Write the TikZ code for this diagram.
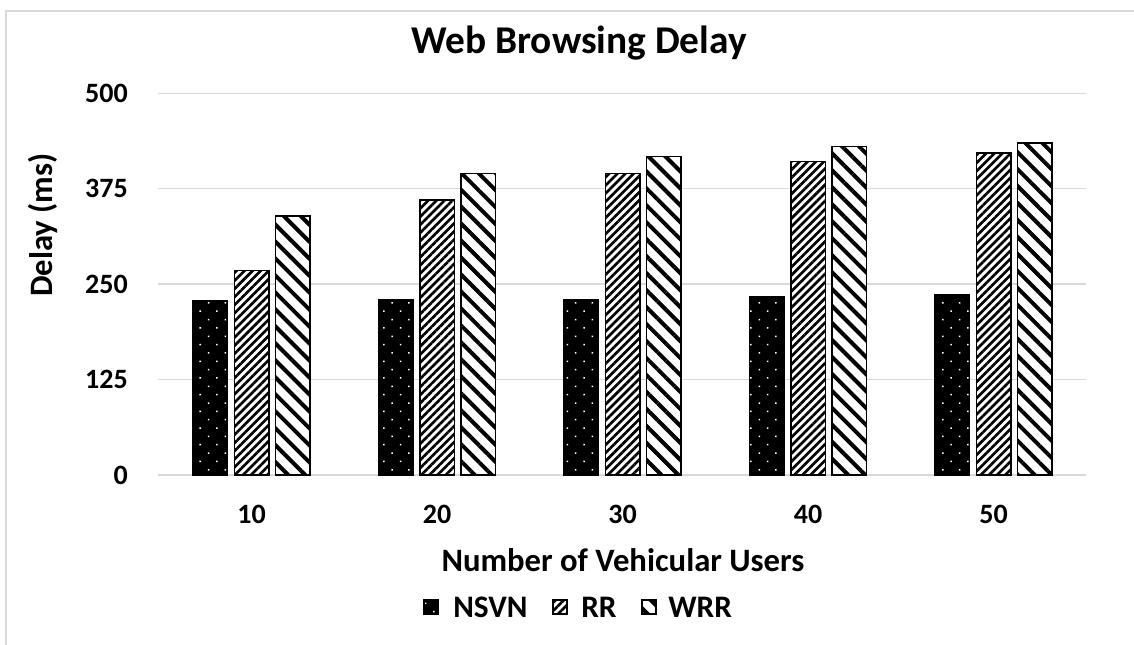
\documentclass[tikz,border=0pt]{standalone}
\usepackage{fontspec}
\setmainfont{Carlito}
\usetikzlibrary{patterns.meta}
\definecolor{gridgray}{HTML}{D9D9D9}

\tikzset{
  gridline/.style={gridgray, line width=1.1pt},
  barline/.style={black, line width=1.1pt},
  nsvnfill/.style={pattern={Dots[distance=8.85pt, radius=0.8pt, angle=45]}, pattern color=white},
  rrfill/.style={preaction={fill=white}, pattern={Lines[angle=45, distance=4.3pt, line width=2pt]}, pattern color=black},
  wrrfill/.style={preaction={fill=white}, pattern={Lines[angle=-45, distance=9pt, line width=3pt]}, pattern color=black},
  ticklabel/.style={font=\fontsize{21}{25}\selectfont\bfseries, inner sep=0pt},
  axistitle/.style={font=\fontsize{24.5}{29}\selectfont\bfseries, inner sep=0pt},
  charttitle/.style={font=\fontsize{29.5}{35}\selectfont\bfseries, inner sep=0pt},
  legendtext/.style={font=\fontsize{23.5}{28}\selectfont\bfseries, inner sep=0pt, anchor=west},
}

\begin{document}
\begin{tikzpicture}[x=0.75pt, y=-0.75pt]
\useasboundingbox (0,0) rectangle (1134,645);

% chart area border (top and left edges visible)
\draw[gridline] (1134,11) -- (6,11) -- (6,645);

% horizontal gridlines and value labels
\foreach \v/\lab in {0/g0, 125/g1, 250/g2, 375/g3, 500/g4} {
  \pgfmathsetmacro\gy{475-0.7634*\v}
  \draw[gridline] (158.3,\gy) -- (1086,\gy);
  \node[ticklabel, anchor=east] (\lab) at (128,\gy) {\v};
}

% bars: NSVN, RR, WRR for each number of users
\foreach \i/\n/\a/\b/\c in {1/10/228/268/339, 2/20/230/360/395, 3/30/230/395/417, 4/40/233/411/430, 5/50/236/422/435} {
  \pgfmathsetmacro\cx{158.3+185.5*(\i-0.5)+0.5}
  \pgfmathsetmacro\ya{475-0.7634*\a}
  \pgfmathsetmacro\yb{475-0.7634*\b}
  \pgfmathsetmacro\yc{475-0.7634*\c}
  % NSVN
  \fill[black] ({\cx-41.5-17.25},475) rectangle ({\cx-41.5+17.25},\ya);
  \fill[nsvnfill] ({\cx-41.5-17.25},475) rectangle ({\cx-41.5+17.25},\ya);
  \draw[barline] ({\cx-41.5-17.25},475) rectangle ({\cx-41.5+17.25},\ya);
  % RR
  \fill[rrfill] ({\cx-17.25},475) rectangle ({\cx+17.25},\yb);
  \draw[barline] ({\cx-17.25},475) rectangle ({\cx+17.25},\yb);
  % WRR
  \fill[wrrfill] ({\cx+41.2-17.25},475) rectangle ({\cx+41.2+17.25},\yc);
  \draw[barline] ({\cx+41.2-17.25},475) rectangle ({\cx+41.2+17.25},\yc);
  % category label
  \node[ticklabel] (cat\i) at (\cx,514) {\n};
}

% titles
\node[charttitle] (title) at (579,43) {Web Browsing Delay};
\node[axistitle] (xtitle) at (623,560) {Number of Vehicular Users};
\node[axistitle, rotate=90] (ytitle) at (43,225) {Delay (ms)};

% legend
\fill[black] (424,600) rectangle (438,614);
\fill[nsvnfill] (424,600) rectangle (438,614);
\draw[barline] (424,600) rectangle (438,614);
\node[legendtext] (lnsvn) at (453,607) {NSVN};
\fill[rrfill] (553,600) rectangle (567,614);
\draw[barline] (553,600) rectangle (567,614);
\node[legendtext] (lrr) at (581,607) {RR};
\fill[wrrfill] (642,600) rectangle (656,614);
\draw[barline] (642,600) rectangle (656,614);
\node[legendtext] (lwrr) at (668,607) {WRR};
\end{tikzpicture}
\end{document}
